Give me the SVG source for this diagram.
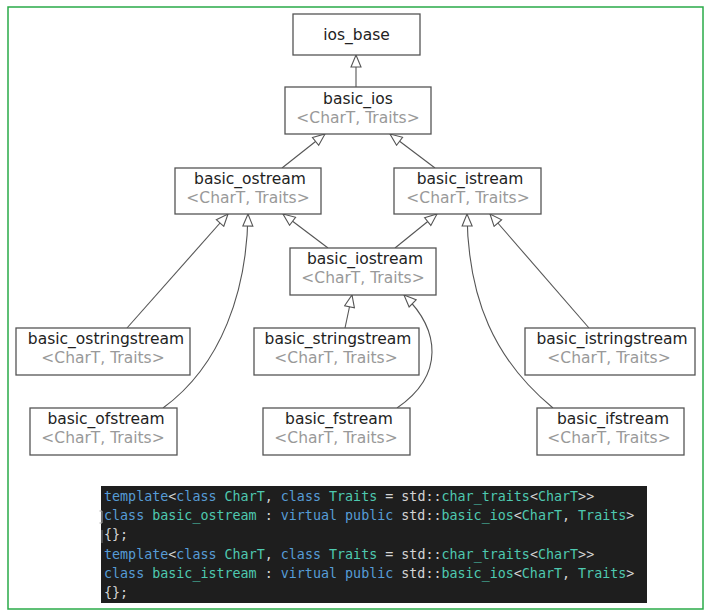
<svg xmlns="http://www.w3.org/2000/svg" width="710" height="615" viewBox="0 0 710 615">
<style>
.box{fill:#fff;stroke:#555;stroke-width:1.3}
.nm{font-family:"DejaVu Sans",Verdana,sans-serif;font-size:15.5px;fill:#222;text-anchor:middle}
.tp{font-family:"DejaVu Sans",Verdana,sans-serif;font-size:15.5px;fill:#999;text-anchor:middle}
.edge{fill:none;stroke:#555;stroke-width:1.1}
.code{font-family:"DejaVu Sans Mono","Liberation Mono",monospace;font-size:13.35px;fill:#d4d4d4}
.k{fill:#569cd6}
.t{fill:#4ec9b0}
</style>
<defs>
<marker id="tri" viewBox="0 0 14 12" refX="13" refY="6" markerWidth="14" markerHeight="12" markerUnits="userSpaceOnUse" orient="auto">
<path d="M1,1 L13,6 L1,11 z" fill="#fff" stroke="#555" stroke-width="1.1"/>
</marker>
</defs>
<rect x="8" y="7" width="695" height="602" fill="#fff" stroke="#2aab48" stroke-width="1.5"/>
<g id="connectors">
<path class="edge" marker-end="url(#tri)" d="M356,87 L356,55"/>
<path class="edge" marker-end="url(#tri)" d="M282,168 L325,134"/>
<path class="edge" marker-end="url(#tri)" d="M435,168 L390,134"/>
<path class="edge" marker-end="url(#tri)" d="M328,248 L283,214"/>
<path class="edge" marker-end="url(#tri)" d="M395,248 L437,214"/>
<path class="edge" marker-end="url(#tri)" d="M127,328 L228,214"/>
<path class="edge" marker-end="url(#tri)" d="M163,408 C222,365 247,290 248,214"/>
<path class="edge" marker-end="url(#tri)" d="M345,328 L352,295"/>
<path class="edge" marker-end="url(#tri)" d="M397,408 C445,375 440,330 404,295"/>
<path class="edge" marker-end="url(#tri)" d="M589,328 L490,214"/>
<path class="edge" marker-end="url(#tri)" d="M553,408 C495,360 468,300 467,214"/>
</g>
<g id="ios_base"><rect class="box" x="293" y="14" width="127" height="41"/><text class="nm" x="356.5" y="40">ios_base</text></g>
<g id="basic_ios"><rect class="box" x="285" y="87" width="146" height="47"/><text class="nm" x="358" y="104">basic_ios</text><text class="tp" x="358" y="123">&lt;CharT, Traits&gt;</text></g>
<g id="basic_ostream"><rect class="box" x="175" y="168" width="146" height="46"/><text class="nm" x="250" y="184">basic_ostream</text><text class="tp" x="248" y="203">&lt;CharT, Traits&gt;</text></g>
<g id="basic_istream"><rect class="box" x="394" y="168" width="147" height="46"/><text class="nm" x="470" y="184">basic_istream</text><text class="tp" x="468" y="203">&lt;CharT, Traits&gt;</text></g>
<g id="basic_iostream"><rect class="box" x="290" y="248" width="146" height="47"/><text class="nm" x="365" y="264">basic_iostream</text><text class="tp" x="363" y="283">&lt;CharT, Traits&gt;</text></g>
<g id="basic_ostringstream"><rect class="box" x="16" y="328" width="174" height="47"/><text class="nm" x="106" y="344">basic_ostringstream</text><text class="tp" x="103" y="363">&lt;CharT, Traits&gt;</text></g>
<g id="basic_stringstream"><rect class="box" x="254" y="328" width="165" height="47"/><text class="nm" x="338" y="344">basic_stringstream</text><text class="tp" x="336" y="363">&lt;CharT, Traits&gt;</text></g>
<g id="basic_istringstream"><rect class="box" x="525" y="328" width="170" height="47"/><text class="nm" x="612" y="344">basic_istringstream</text><text class="tp" x="609" y="363">&lt;CharT, Traits&gt;</text></g>
<g id="basic_ofstream"><rect class="box" x="30" y="408" width="147" height="47"/><text class="nm" x="106" y="424">basic_ofstream</text><text class="tp" x="103" y="443">&lt;CharT, Traits&gt;</text></g>
<g id="basic_fstream"><rect class="box" x="263" y="408" width="147" height="47"/><text class="nm" x="339" y="424">basic_fstream</text><text class="tp" x="336" y="443">&lt;CharT, Traits&gt;</text></g>
<g id="basic_ifstream"><rect class="box" x="537" y="408" width="147" height="47"/><text class="nm" x="613" y="424">basic_ifstream</text><text class="tp" x="609" y="443">&lt;CharT, Traits&gt;</text></g>
<g id="code">
<rect x="101" y="486" width="546" height="117" fill="#1e1e1e"/>
<path d="M99.5,511 L102,511 L102,523 L99.5,523" fill="none" stroke="#aaa" stroke-width="1"/>
<path d="M102,530 L102,543" fill="none" stroke="#777" stroke-width="1"/>
<text class="code" xml:space="preserve" x="104" y="500.5"><tspan class="k">template</tspan>&lt;<tspan class="k">class</tspan> <tspan class="t">CharT</tspan>, <tspan class="k">class</tspan> <tspan class="t">Traits</tspan> = std::<tspan class="t">char_traits</tspan>&lt;<tspan class="t">CharT</tspan>&gt;&gt;</text>
<text class="code" xml:space="preserve" x="104" y="520"><tspan class="k">class</tspan> <tspan class="t">basic_ostream</tspan> : <tspan class="k">virtual</tspan> <tspan class="k">public</tspan> std::<tspan class="t">basic_ios</tspan>&lt;<tspan class="t">CharT</tspan>, <tspan class="t">Traits</tspan>&gt;</text>
<text class="code" xml:space="preserve" x="104" y="539">{};</text>
<text class="code" xml:space="preserve" x="104" y="558.5"><tspan class="k">template</tspan>&lt;<tspan class="k">class</tspan> <tspan class="t">CharT</tspan>, <tspan class="k">class</tspan> <tspan class="t">Traits</tspan> = std::<tspan class="t">char_traits</tspan>&lt;<tspan class="t">CharT</tspan>&gt;&gt;</text>
<text class="code" xml:space="preserve" x="104" y="578"><tspan class="k">class</tspan> <tspan class="t">basic_istream</tspan> : <tspan class="k">virtual</tspan> <tspan class="k">public</tspan> std::<tspan class="t">basic_ios</tspan>&lt;<tspan class="t">CharT</tspan>, <tspan class="t">Traits</tspan>&gt;</text>
<text class="code" xml:space="preserve" x="104" y="597">{};</text>
</g>
</svg>
